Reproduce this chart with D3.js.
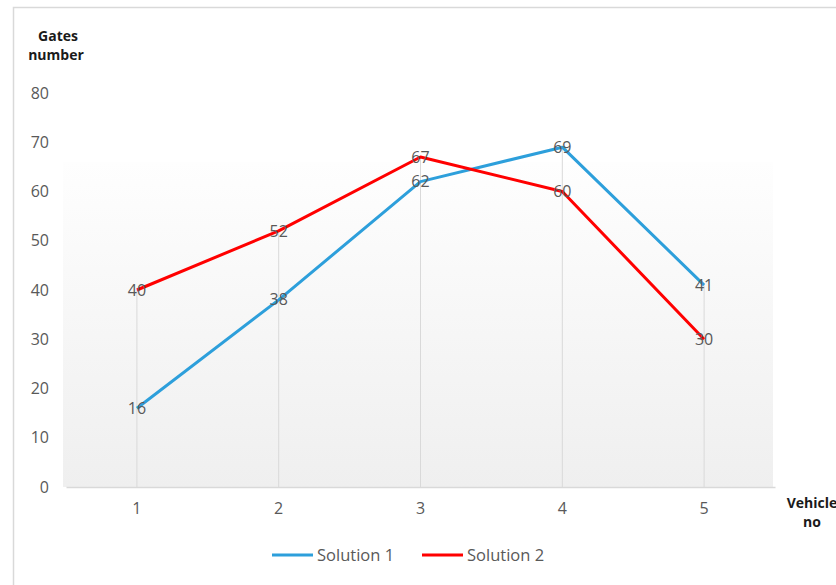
<!DOCTYPE html>
<html>
<head>
<meta charset="utf-8">
<script src="https://cdn.jsdelivr.net/npm/d3@7"></script>
<style>
  html, body { margin: 0; padding: 0; background: #fff; }
  svg { display: block; }
  text { font-family: "Open Sans", "Noto Sans", sans-serif; }
</style>
</head>
<body>
<svg id="chart" width="836" height="585"></svg>
<script>
// Vehicle numbers on the x axis
const vehicles = ["1", "2", "3", "4", "5"];
// Gates number per vehicle for each solution
const solution1 = [16, 38, 62, 69, 41];
const solution2 = [40, 52, 67, 60, 30];
const seriesNames = ["Solution 1", "Solution 2"];
const seriesColors = ["#2d9fdb", "#ff0000"];
const yTicks = [0, 10, 20, 30, 40, 50, 60, 70, 80];

const svg = d3.select("#chart");
const W = 836, H = 585;
const plot = { left: 66, right: 775, top: 93, bottom: 487 };

// outer chart border (extends past the right and bottom edges)
svg.append("path")
  .attr("d", `M13.5,${H + 5} L13.5,7.5 L${W + 5},7.5`)
  .attr("fill", "none").attr("stroke", "#d9d9d9").attr("stroke-width", 1.5);

const x = d3.scaleBand().domain(vehicles).range([plot.left, plot.right]);
const y = d3.scaleLinear().domain([0, 80]).range([plot.bottom, plot.top]);
const cx = d => x(d) + x.bandwidth() / 2;

// plot area background gradient
const defs = svg.append("defs");
const grad = defs.append("linearGradient").attr("id", "bg")
  .attr("x1", 0).attr("y1", 0).attr("x2", 0).attr("y2", 1);
grad.append("stop").attr("offset", "0%").attr("stop-color", "#fefefe");
grad.append("stop").attr("offset", "100%").attr("stop-color", "#efefef");
svg.append("rect")
  .attr("x", plot.left - 3).attr("y", y(66))
  .attr("width", plot.right - plot.left + 1).attr("height", plot.bottom - y(66))
  .attr("fill", "url(#bg)");

// drop lines from the highest point of each category down to the axis
svg.append("g").selectAll("line").data(vehicles).join("line")
  .attr("x1", d => cx(d)).attr("x2", d => cx(d))
  .attr("y1", (d, i) => y(Math.max(solution1[i], solution2[i])))
  .attr("y2", plot.bottom)
  .attr("stroke", "#d9d9d9").attr("stroke-width", 1);

// x axis
const xAxis = svg.append("g").attr("transform", `translate(0,${plot.bottom})`)
  .call(d3.axisBottom(x).tickSize(0).tickPadding(16));
xAxis.select(".domain").attr("stroke", "#d9d9d9").attr("stroke-width", 1.5);
xAxis.selectAll("text").attr("font-size", 16).attr("fill", "#595959")
  .style("font-family", "'Open Sans', sans-serif");

// y axis
const yAxis = svg.append("g").attr("transform", `translate(${plot.left},0)`)
  .call(d3.axisLeft(y).tickValues(yTicks).tickSize(0).tickPadding(17));
yAxis.select(".domain").remove();
yAxis.selectAll("text").attr("font-size", 16).attr("fill", "#595959")
  .style("font-family", "'Open Sans', sans-serif");

// lines
const line = d3.line().x((d, i) => cx(vehicles[i])).y(d => y(d));
[solution1, solution2].forEach((vals, k) => {
  svg.append("path").datum(vals)
    .attr("d", line)
    .attr("fill", "none")
    .attr("stroke", seriesColors[k])
    .attr("stroke-width", 3)
    .attr("stroke-linejoin", "round");
});

// data labels centred on points
[solution1, solution2].forEach(vals => {
  svg.append("g").selectAll("text").data(vals).join("text")
    .attr("x", (d, i) => cx(vehicles[i]))
    .attr("y", d => y(d))
    .attr("dy", "0.35em")
    .attr("text-anchor", "middle")
    .attr("font-size", 16)
    .attr("fill", "#595959")
    .text(d => d);
});

// axis titles
const yTitle = svg.append("text").attr("text-anchor", "middle")
  .attr("font-size", 14).attr("font-weight", "bold").attr("fill", "#1a1a1a");
yTitle.append("tspan").attr("x", 58).attr("y", 41).text("Gates");
yTitle.append("tspan").attr("x", 56).attr("y", 60).text("number");

const xTitle = svg.append("text").attr("text-anchor", "middle")
  .attr("font-size", 14).attr("font-weight", "bold").attr("fill", "#1a1a1a");
xTitle.append("tspan").attr("x", 812).attr("y", 508).text("Vehicle");
xTitle.append("tspan").attr("x", 812).attr("y", 527).text("no");

// legend
const legendX = [272, 422];
seriesNames.forEach((name, k) => {
  const g = svg.append("g").attr("transform", `translate(${legendX[k]},555)`);
  g.append("line").attr("x1", 0).attr("x2", 41).attr("y1", 0).attr("y2", 0)
    .attr("stroke", seriesColors[k]).attr("stroke-width", 3);
  g.append("text").attr("x", 45).attr("dy", "0.35em")
    .attr("font-size", 16.5).attr("fill", "#595959").text(name);
});
</script>
</body>
</html>
